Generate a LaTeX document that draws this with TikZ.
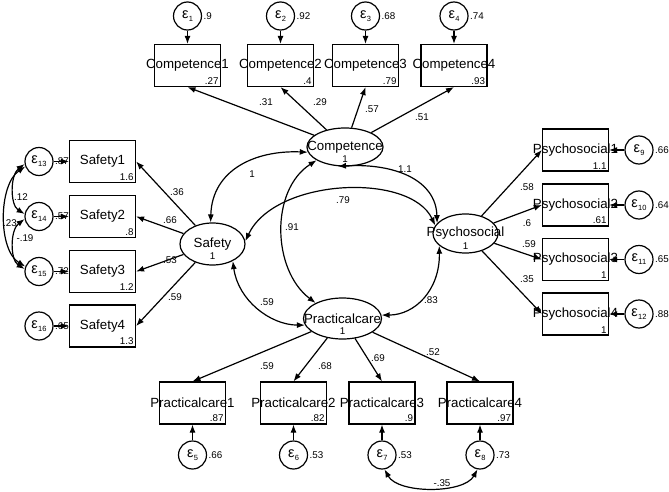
\documentclass[tikz,border=0pt]{standalone}
\usepackage{fontspec}
\setmainfont{Liberation Sans}
\usetikzlibrary{arrows.meta,shapes.geometric}

\newcommand{\eps}[1]{{\fontsize{14.5}{16}\selectfont ε}\kern.3pt\raisebox{-.45ex}{\fontsize{7.5}{8}\selectfont#1}}

\begin{document}
\begin{tikzpicture}[x=1pt,y=-1pt,
        font=\fontsize{13.3}{15}\selectfont,line width=1.2pt,
        val/.style={font=\fontsize{9.8}{11}\selectfont,inner sep=1pt},
        obs/.style 2 args={draw,rectangle,minimum width=66pt,minimum height=42pt,inner sep=0pt,
            label=center:#1,label={[val,inner sep=2pt,anchor=south east]south east:#2}},
        lat/.style={draw,ellipse,inner sep=0pt,
            label=center:#1,label={[val,yshift=-12.5pt]center:1}},
        err/.style={draw,circle,minimum size=28pt,inner sep=0pt,label={[val]right:#1}},
        load/.style={-{Latex[length=8pt,width=6pt]}},
        cov/.style={{Latex[length=8pt,width=6pt]}-{Latex[length=8pt,width=6pt]}}]

    \useasboundingbox (0,0) rectangle (669,492);

    % latent variables
    \node[lat=Competence,minimum width=76pt,minimum height=38pt] (comp) at (345,147) {};
    \node[lat=Safety,minimum width=65pt,minimum height=42pt] (safety) at (212.5,244) {};
    \node[lat=Psychosocial,minimum width=65pt,minimum height=39pt] (psych) at (465.5,233.5) {};
    \node[lat=Practicalcare,minimum width=78pt,minimum height=41pt] (prac) at (342.5,318.5) {};

    % competence
    \foreach \i/\x/\r/\e/\lx/\ly/\b in {1/187.5/.27/.9/266/102/.31, 2/280.5/.4/.92/320/102/.29,
                                        3/365.5/.79/.68/372/109/.57, 4/454/.93/.74/422/117/.51} {
        \node[obs={Competence\i}{\r}] (c\i) at (\x,65.5) {};
        \node[err=\e] (e\i) at (\x,16) {\eps{\i}};
        \draw[load] (e\i) -- (c\i);
        \draw[load] (comp) -- (c\i.south) node[val] at (\lx,\ly) {\b};
    }

    % safety
    \foreach \i/\y/\r/\n/\e/\lx/\ly/\b in {1/161.5/1.6/13/.87/177/192/.36, 2/216.5/.8/14/.57/170/220/.66,
                                           3/271.5/1.2/15/.72/170/260/.53, 4/326/1.3/16/.65/175/297/.59} {
        \node[obs={Safety\i}{\r}] (s\i) at (102.5,\y) {};
        \node[err=\e] (e\n) at (39,\y) {\eps{\n}};
        \draw[load] (e\n) -- (s\i);
        \draw[load] (safety) -- (s\i.east) node[val] at (\lx,\ly) {\b};
    }

    % psychosocial
    \foreach \i/\y/\r/\n/\e/\lx/\ly/\b in {1/150/1.1/9/.66/527/187/.58, 2/205/.61/10/.64/527/223/.6,
                                           3/259.5/1/11/.65/529/244/.59, 4/314/1/12/.88/527/279/.35} {
        \node[obs={Psychosocial\i}{\r}] (p\i) at (575.5,\y) {};
        \node[err=\e] (e\n) at (639,\y) {\eps{\n}};
        \draw[load] (e\n) -- (p\i);
        \draw[load] (psych) -- (p\i.west) node[val] at (\lx,\ly) {\b};
    }

    % practical care
    \foreach \i/\x/\r/\n/\e/\lx/\ly/\b in {1/192.5/.87/5/.66/267/366/.59, 2/293.5/.82/6/.53/325/366/.68,
                                           3/382/.9/7/.53/378/358/.69, 4/480/.97/8/.73/433/352/.52} {
        \node[obs={Practicalcare\i}{\r}] (pc\i) at (\x,403) {};
        \node[err=\e] (e\n) at (\x,455) {\eps{\n}};
        \draw[load] (e\n) -- (pc\i);
        \draw[load] (prac) -- (pc\i.north) node[val] at (\lx,\ly) {\b};
    }

    % covariances
    \draw[cov] (comp.188) .. controls (255,150) and (212,170) .. (safety.95) node[val] at (252,174) {1};
    \draw[cov] (comp.205) .. controls (270,190) and (272,270) .. (prac.150) node[val] at (292,227) {.91};
    \draw[cov] (comp.250) .. controls (395,163) and (436,180) .. (psych.160) node[val] at (405,169) {1.1};
    \draw[cov] (safety.5) .. controls (275,178) and (410,172) .. (psych.165) node[val] at (343,200) {.79};
    \draw[cov] (safety.320) .. controls (238,300) and (270,325) .. (prac.190) node[val] at (267,302) {.59};
    \draw[cov] (psych.205) .. controls (440,290) and (415,315) .. (prac.5) node[val] at (431,300) {.83};

    \draw[cov] (e13.190) .. controls (10,175) and (10,205) .. (e14.170) node[val] at (21,197) {.12};
    \draw[cov] (e14.190) .. controls (10,230) and (10,260) .. (e15.170) node[val] at (25,238) {-.19};
    \draw[cov] (e13.200) .. controls (-2,185) and (-2,250) .. (e15.160) node[val] at (10,223) {.23};
    \draw[cov] (e7.280) .. controls (398,494) and (464,494) .. (e8.260) node[val] at (442,483) {-.35};
\end{tikzpicture}
\end{document}
